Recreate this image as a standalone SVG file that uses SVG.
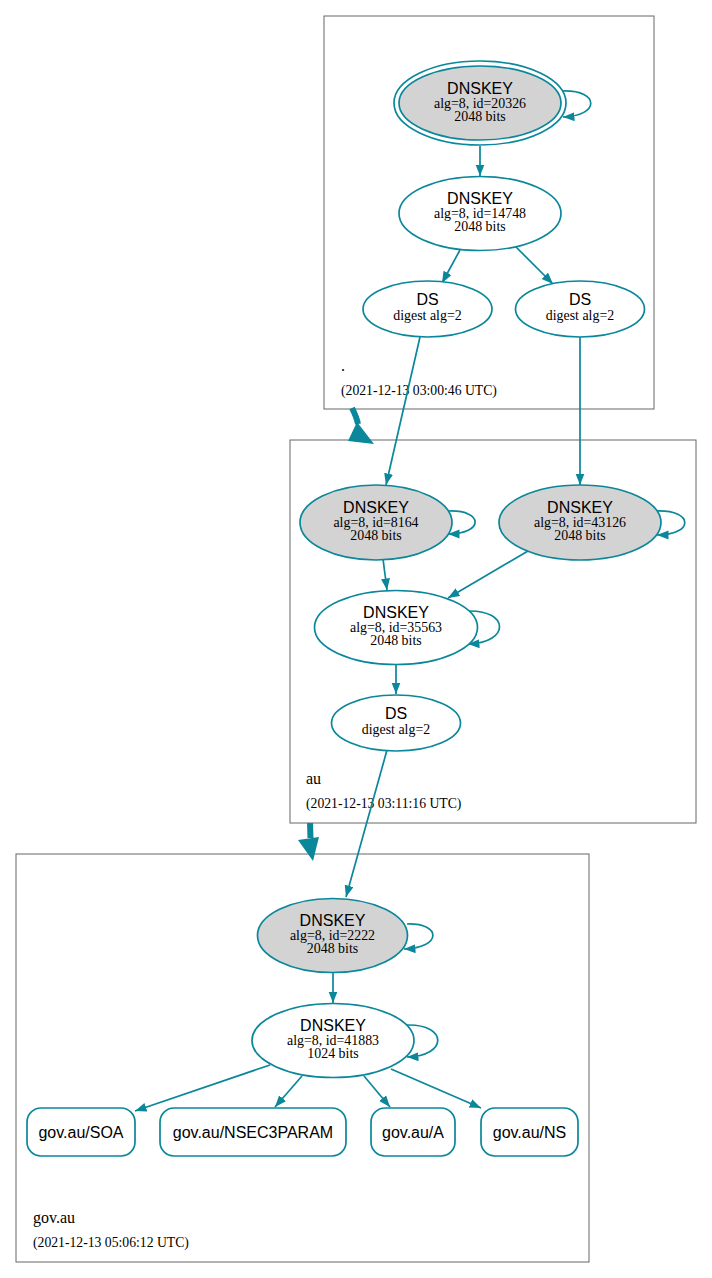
<svg xmlns="http://www.w3.org/2000/svg" width="712" height="1278" viewBox="0 0 712 1278">
<defs>
<style>
.cl{fill:none;stroke:#666;stroke-width:1}
.n{fill:#fff;stroke:#0a879a;stroke-width:1.7}
.k{fill:#d3d3d3;stroke:#0a879a;stroke-width:1.7}
.e{fill:none;stroke:#0a879a;stroke-width:1.7;marker-end:url(#ah)}
.h{font-family:"Liberation Sans",Arial,sans-serif;font-size:16px;text-anchor:middle;fill:#000}
.t{font-family:"Liberation Serif","Times New Roman",serif;font-size:13.9px;text-anchor:middle;fill:#000}
.cn{font-family:"Liberation Serif","Times New Roman",serif;font-size:16px;fill:#000}
.cd{font-family:"Liberation Serif","Times New Roman",serif;font-size:13.7px;fill:#000}
</style>
<marker id="ah" markerUnits="userSpaceOnUse" markerWidth="12" markerHeight="10" refX="11.5" refY="4.5" orient="auto">
<path d="M0,0 L11.5,4.5 L0,9 z" fill="#0a879a"/>
</marker>
</defs>
<rect width="712" height="1278" fill="#fff"/>

<g id="cluster_root">
<rect class="cl" x="324" y="16" width="330" height="393"/>
<text class="cn" x="341" y="371">.</text>
<text class="cd" x="341" y="395">(2021-12-13 03:00:46 UTC)</text>
</g>
<g id="cluster_au">
<rect class="cl" x="290" y="440" width="406" height="383"/>
<text class="cn" x="306" y="784">au</text>
<text class="cd" x="306" y="808">(2021-12-13 03:11:16 UTC)</text>
</g>
<g id="cluster_gov_au">
<rect class="cl" x="16" y="854" width="573" height="408"/>
<text class="cn" x="33" y="1223">gov.au</text>
<text class="cd" x="33" y="1247">(2021-12-13 05:06:12 UTC)</text>
</g>

<g id="connectors">
<path class="e" d="M563,91 C600,90 600,116 563,117"/>
<path class="e" d="M480,146 L480,176"/>
<path class="e" d="M460,250 L442,283"/>
<path class="e" d="M516,247 L553,284"/>
<path class="e" d="M420,337 L386,485"/>
<path class="e" d="M580,337 L580,485"/>
<path class="e" d="M449,511 C484,510 484,534 448,534"/>
<path class="e" d="M657,511 C694,510 694,535 657,535"/>
<path class="e" d="M383,559 L387,590"/>
<path class="e" d="M528,551 L448,598"/>
<path class="e" d="M468,611 C510,610 510,643 468,644"/>
<path class="e" d="M396,664 L396,694"/>
<path class="e" d="M387,750 L346,897"/>
<path class="e" d="M407,924 C442,923 442,948 404,949"/>
<path class="e" d="M333,973 L333,1003"/>
<path class="e" d="M407,1025 C448,1024 448,1056 407,1057"/>
<path class="e" d="M270,1065 L135,1111"/>
<path class="e" d="M302,1076 L275,1107"/>
<path class="e" d="M364,1076 L390,1107"/>
<path class="e" d="M391,1069 L481,1108"/>
<path d="M352,408 C355,414 357,419 358,424" fill="none" stroke="#0a879a" stroke-width="6"/>
<polygon points="357,422 348,441 374,444" fill="#0a879a"/>
<path d="M310,823 L310.5,838" fill="none" stroke="#0a879a" stroke-width="6"/>
<polygon points="298,840 319,837 313,861" fill="#0a879a"/>
</g>

<g id="node_ksk_20326">
<ellipse class="k" cx="480" cy="103" rx="86" ry="42" style="fill:none"/>
<ellipse class="k" cx="480" cy="103" rx="81" ry="37"/>
<text class="h" x="480" y="94">DNSKEY</text>
<text class="t" x="480" y="107.5">alg=8, id=20326</text>
<text class="t" x="480" y="120.5">2048 bits</text>
</g>
<g id="node_zsk_14748">
<ellipse class="n" cx="480" cy="213.5" rx="81" ry="37"/>
<text class="h" x="480" y="204">DNSKEY</text>
<text class="t" x="480" y="218">alg=8, id=14748</text>
<text class="t" x="480" y="231">2048 bits</text>
</g>
<g id="node_ds_root_1">
<ellipse class="n" cx="427.5" cy="309" rx="64.5" ry="28"/>
<text class="h" x="427.5" y="305">DS</text>
<text class="t" x="427.5" y="319.5">digest alg=2</text>
</g>
<g id="node_ds_root_2">
<ellipse class="n" cx="580" cy="309" rx="64.5" ry="28"/>
<text class="h" x="580" y="305">DS</text>
<text class="t" x="580" y="319.5">digest alg=2</text>
</g>

<g id="node_ksk_8164">
<ellipse class="k" cx="376" cy="522.5" rx="76" ry="37.5"/>
<text class="h" x="376" y="513">DNSKEY</text>
<text class="t" x="376" y="527">alg=8, id=8164</text>
<text class="t" x="376" y="540">2048 bits</text>
</g>
<g id="node_ksk_43126">
<ellipse class="k" cx="580" cy="522.5" rx="81" ry="37.5"/>
<text class="h" x="580" y="513">DNSKEY</text>
<text class="t" x="580" y="527">alg=8, id=43126</text>
<text class="t" x="580" y="540">2048 bits</text>
</g>
<g id="node_zsk_35563">
<ellipse class="n" cx="396" cy="627.5" rx="81.5" ry="37"/>
<text class="h" x="396" y="618">DNSKEY</text>
<text class="t" x="396" y="632">alg=8, id=35563</text>
<text class="t" x="396" y="645">2048 bits</text>
</g>
<g id="node_ds_au">
<ellipse class="n" cx="396" cy="723" rx="64.5" ry="28"/>
<text class="h" x="396" y="719">DS</text>
<text class="t" x="396" y="733.5">digest alg=2</text>
</g>

<g id="node_ksk_2222">
<ellipse class="k" cx="332.5" cy="935.5" rx="75" ry="37"/>
<text class="h" x="332.5" y="926">DNSKEY</text>
<text class="t" x="332.5" y="940">alg=8, id=2222</text>
<text class="t" x="332.5" y="953">2048 bits</text>
</g>
<g id="node_zsk_41883">
<ellipse class="n" cx="333" cy="1040.5" rx="81" ry="37"/>
<text class="h" x="333" y="1031">DNSKEY</text>
<text class="t" x="333" y="1045">alg=8, id=41883</text>
<text class="t" x="333" y="1058">1024 bits</text>
</g>
<g id="node_soa">
<rect class="n" x="27" y="1108" width="108" height="48" rx="14"/>
<text class="h" x="81" y="1137.5">gov.au/SOA</text>
</g>
<g id="node_nsec3param">
<rect class="n" x="160" y="1108" width="186" height="48" rx="14"/>
<text class="h" x="253" y="1137.5">gov.au/NSEC3PARAM</text>
</g>
<g id="node_a">
<rect class="n" x="371" y="1108" width="84" height="48" rx="14"/>
<text class="h" x="413" y="1137.5">gov.au/A</text>
</g>
<g id="node_ns">
<rect class="n" x="481" y="1108" width="97" height="48" rx="14"/>
<text class="h" x="529.5" y="1137.5">gov.au/NS</text>
</g>
</svg>
